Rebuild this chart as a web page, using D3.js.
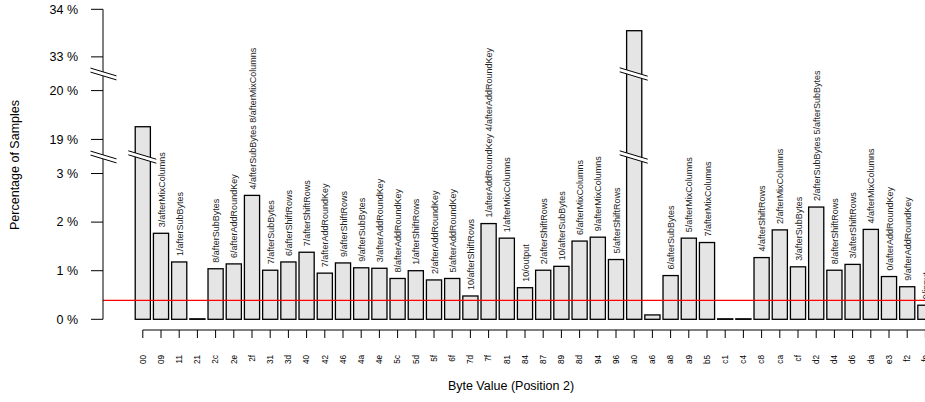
<!DOCTYPE html>
<html>
<head>
<meta charset="utf-8">
<script src="https://cdn.jsdelivr.net/npm/d3@7"></script>
<style>
  body { margin: 0; background: #fff; }
  svg { display: block; font-family: "Liberation Sans", Arial, sans-serif; }
</style>
</head>
<body>
<div id="chart"></div>
<script>
// Byte values seen at position 2
const bytes = ["00","09","11","21","2c","2e","2f","31","3d","40","42","46","4a","4e",
  "5c","5d","5f","6f","7d","7f","81","84","87","89","8d","94","96","a0","a6","a8",
  "a9","b5","c1","c4","c8","ca","cf","d2","d4","d6","da","e3","f2","fe"];

// percentage of samples for each byte
const percents = [19.26, 1.77, 1.18, 0.01, 1.04, 1.14, 2.55, 1.01, 1.18, 1.38, 0.95, 1.16, 1.06, 1.05,
  0.84, 1.00, 0.81, 0.84, 0.48, 1.97, 1.67, 0.65, 1.01, 1.09, 1.61, 1.69, 1.23, 33.55, 0.09, 0.90,
  1.67, 1.58, 0.01, 0.01, 1.27, 1.84, 1.08, 2.31, 1.01, 1.13, 1.85, 0.88, 0.67, 0.29];

// which round/step each byte shows up after
const stepLabels = ["", "3/afterMixColumns", "1/afterSubBytes", "", "8/afterSubBytes",
  "6/afterAddRoundKey", "4/afterSubBytes 8/afterMixColumns", "7/afterSubBytes",
  "6/afterShiftRows", "7/afterShiftRows", "7/afterAddRoundKey", "9/afterShiftRows",
  "9/afterSubBytes", "3/afterAddRoundKey", "8/afterAddRoundKey", "1/afterShiftRows",
  "2/afterAddRoundKey", "5/afterAddRoundKey", "10/afterShiftRows",
  "1/afterAddRoundKey 4/afterAddRoundKey", "1/afterMixColumns", "10/output",
  "2/afterShiftRows", "10/afterSubBytes", "6/afterMixColumns", "9/afterMixColumns",
  "5/afterShiftRows", "", "", "6/afterSubBytes", "5/afterMixColumns", "7/afterMixColumns",
  "", "", "4/afterShiftRows", "2/afterMixColumns", "3/afterSubBytes",
  "2/afterSubBytes 5/afterSubBytes", "8/afterShiftRows", "3/afterShiftRows",
  "4/afterMixColumns", "0/afterAddRoundKey", "9/afterAddRoundKey", "0/input"];

// y axis ticks and the two gaps in the axis
const yTicks = [0, 1, 2, 3, 19, 20, 33, 34];
const gaps = [[3.34, 18.64], [20.34, 32.64]];
const uniform = 1 / 256 * 100;   // red reference line

const width = 925, height = 402;
const data = bytes.map((b, i) => ({key: b, value: percents[i], label: stepLabels[i]}));

const svg = d3.select("#chart").append("svg")
  .attr("width", width).attr("height", height)
  .style("overflow", "hidden");

// broken y scale: piecewise, gaps collapse to a single pixel row
const y = d3.scaleLinear()
  .domain([0, gaps[0][0], gaps[0][1], gaps[1][0], gaps[1][1], 34])
  .range([319.3, 157, 157, 74, 74, 9.3]);

const step = 18.2;
const x = d3.scaleBand()
  .domain(bytes)
  .range([142.8 - step / 2, 142.8 - step / 2 + step * bytes.length])
  .paddingInner(1 / 6)
  .paddingOuter(1 / 12);
const cx = d => x(d) + x.bandwidth() / 2;

const axisX = 103;

// bars
svg.append("g").selectAll("rect")
  .data(data)
  .join("rect")
  .attr("x", d => x(d.key))
  .attr("width", x.bandwidth())
  .attr("y", d => y(d.value))
  .attr("height", d => y(0) - y(d.value))
  .attr("fill", "#e5e5e5")
  .attr("stroke", "#000")
  .attr("stroke-width", 1.3);

// red line
svg.append("line")
  .attr("x1", axisX).attr("x2", width)
  .attr("y1", y(uniform)).attr("y2", y(uniform))
  .attr("stroke", "#ff0000").attr("stroke-width", 1.2);

// labels above bars
svg.append("g").selectAll("text")
  .data(data.filter(d => d.label))
  .join("text")
  .attr("transform", d => `translate(${cx(d.key) + 0.5},${y(d.value) - 6}) rotate(-90)`)
  .attr("dy", "0.35em")
  .attr("font-size", 9)
  .attr("fill", "#222")
  .text(d => d.label);

// y axis
const yAxis = svg.append("g");
yAxis.append("line")
  .attr("x1", axisX).attr("x2", axisX)
  .attr("y1", y(0)).attr("y2", y(34))
  .attr("stroke", "#000");
yAxis.selectAll(".tick")
  .data(yTicks)
  .join("line")
  .attr("x1", axisX - 12).attr("x2", axisX)
  .attr("y1", d => y(d)).attr("y2", d => y(d))
  .attr("stroke", "#000");
yAxis.selectAll("text")
  .data(yTicks)
  .join("text")
  .attr("x", 78).attr("y", d => y(d))
  .attr("dy", "0.35em")
  .attr("text-anchor", "end")
  .attr("font-size", 12.5)
  .text(d => d + " %");

// break marks: on the axis and across any bar that crosses a gap
function breakMark(xc, yc, half) {
  const s = 0.3, off = 2;
  const g = svg.append("g");
  g.append("polygon")
    .attr("points", [
      [xc - half, yc - off - half * s], [xc + half, yc - off + half * s],
      [xc + half, yc + off + half * s], [xc - half, yc + off - half * s]].join(" "))
    .attr("fill", "#fff");
  [-off, off].forEach(o => {
    g.append("line")
      .attr("x1", xc - half).attr("y1", yc + o - half * s)
      .attr("x2", xc + half).attr("y2", yc + o + half * s)
      .attr("stroke", "#000").attr("stroke-width", 1);
  });
}
gaps.forEach(gp => {
  const yc = y(gp[0]);
  breakMark(axisX + 0.5, yc, 13);
  data.filter(d => d.value > gp[1]).forEach(d => breakMark(cx(d.key) - 0.5, yc, 14));
});

// x axis
const xAxis = svg.append("g");
xAxis.append("line")
  .attr("x1", cx(bytes[0])).attr("x2", cx(bytes[bytes.length - 1]))
  .attr("y1", 330).attr("y2", 330)
  .attr("stroke", "#000");
xAxis.selectAll(".tick")
  .data(bytes)
  .join("line")
  .attr("x1", d => cx(d)).attr("x2", d => cx(d))
  .attr("y1", 330).attr("y2", 338)
  .attr("stroke", "#000");
xAxis.selectAll("text")
  .data(bytes)
  .join("text")
  .attr("transform", d => `translate(${cx(d)},355) rotate(-90)`)
  .attr("dy", "0.35em")
  .attr("text-anchor", "end")
  .attr("font-size", 8.2)
  .text(d => d);

// titles
svg.append("text")
  .attr("x", 511).attr("y", 390)
  .attr("text-anchor", "middle")
  .attr("font-size", 12.5)
  .text("Byte Value (Position 2)");
svg.append("text")
  .attr("transform", "translate(19,165) rotate(-90)")
  .attr("text-anchor", "middle")
  .attr("font-size", 12.5)
  .text("Percentage of Samples");
</script>
</body>
</html>
